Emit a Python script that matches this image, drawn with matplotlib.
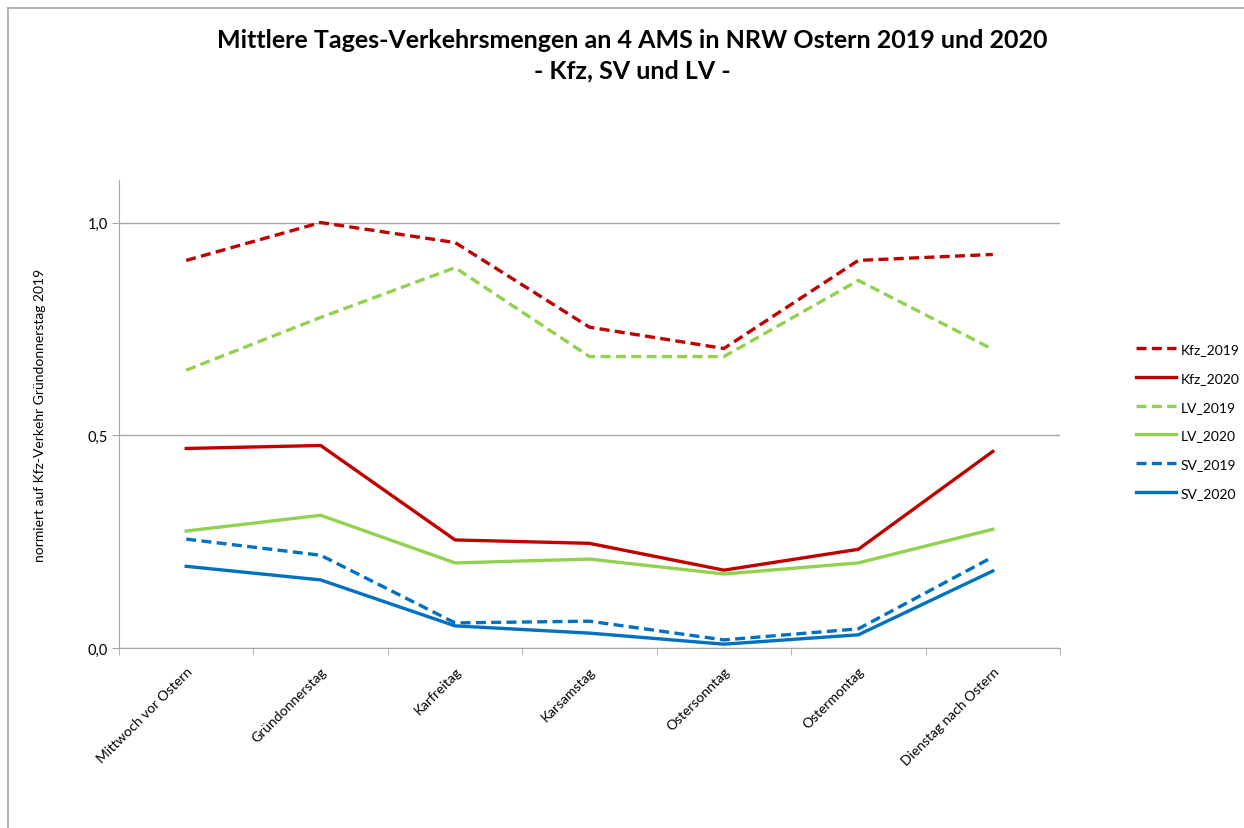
import numpy as np
import matplotlib.pyplot as plt
from matplotlib.lines import Line2D

plt.rcParams['font.family'] = ['Lato', 'DejaVu Sans']

# Kategorien (Tage) und Werte, normiert auf Kfz-Verkehr Gründonnerstag 2019
tage = ['Mittwoch vor Ostern', 'Gründonnerstag', 'Karfreitag', 'Karsamstag',
        'Ostersonntag', 'Ostermontag', 'Dienstag nach Ostern']
kfz_2019 = [0.911, 1.000, 0.953, 0.754, 0.704, 0.911, 0.925]
kfz_2020 = [0.469, 0.476, 0.254, 0.246, 0.183, 0.232, 0.462]
lv_2019 = [0.653, 0.777, 0.894, 0.685, 0.685, 0.864, 0.702]
lv_2020 = [0.275, 0.312, 0.200, 0.209, 0.174, 0.200, 0.279]
sv_2019 = [0.256, 0.218, 0.059, 0.063, 0.019, 0.045, 0.214]
sv_2020 = [0.192, 0.160, 0.052, 0.035, 0.009, 0.031, 0.181]

rot = '#C00000'
gruen = '#92D050'
blau = '#0070C0'

fig = plt.figure(figsize=(12.44, 8.29), dpi=100)
ax = fig.add_axes([119/1244, 1 - 649/829, (1060 - 119)/1244, (649 - 181)/829])

x = np.arange(len(tage))
lw = 2.4
dash = (3, 1.6)
reihen = [
    ('Kfz_2019', kfz_2019, rot, True),
    ('Kfz_2020', kfz_2020, rot, False),
    ('LV_2019', lv_2019, gruen, True),
    ('LV_2020', lv_2020, gruen, False),
    ('SV_2019', sv_2019, blau, True),
    ('SV_2020', sv_2020, blau, False),
]
handles = []
for name, werte, farbe, gestrichelt in reihen:
    if gestrichelt:
        ln, = ax.plot(x, werte, color=farbe, lw=lw, dashes=dash, label=name)
    else:
        ln, = ax.plot(x, werte, color=farbe, lw=lw, label=name)
    handles.append(ln)

ax.set_xlim(-0.5, len(tage) - 0.5)
ax.set_ylim(0, 1.1)
ax.set_yticks([0, 0.5, 1.0])
ax.set_yticklabels(['0,0', '0,5', '1,0'])
ax.yaxis.grid(True, color='#A6A6A6', lw=1)
ax.set_axisbelow(True)

ax.set_xticks(x)
ax.set_xticklabels(tage, rotation=45, ha='right', rotation_mode='anchor')
ax.set_xticks(np.arange(-0.5, len(tage)), minor=True)
ax.tick_params(axis='x', which='major', length=0, pad=12, labelsize=10, colors='#000000')
ax.tick_params(axis='x', which='minor', length=5, color='#A6A6A6', direction='out')
ax.tick_params(axis='y', length=5, color='#A6A6A6', labelsize=10.5, pad=3)

for s in ['top', 'right']:
    ax.spines[s].set_visible(False)
for s in ['left', 'bottom']:
    ax.spines[s].set_color('#A6A6A6')

ax.set_ylabel('normiert auf Kfz-Verkehr Gründonnerstag 2019', fontsize=10, labelpad=30)

fig.text(0.508, 1 - 41/829, 'Mittlere Tages-Verkehrsmengen an 4 AMS in NRW Ostern 2019 und 2020',
         ha='center', va='center', fontsize=18, fontweight='bold')
fig.text(0.508, 1 - 71/829, '- Kfz, SV und LV -',
         ha='center', va='center', fontsize=18, fontweight='bold')

fig.legend(handles=handles, loc='center left', bbox_to_anchor=(1136/1244, 1 - 422/829),
           frameon=False, fontsize=10, handlelength=2.9, handletextpad=0.3,
           labelspacing=1.2, borderpad=0, borderaxespad=0)

# Rahmen des Diagramms (oben und links sichtbar)
fig.add_artist(Line2D([8/1244, 1], [1 - 9/829, 1 - 9/829], color='#A6A6A6', lw=1.2))
fig.add_artist(Line2D([8/1244, 8/1244], [0, 1 - 9/829], color='#A6A6A6', lw=1.2))

fig.savefig('out.png', dpi=100)
